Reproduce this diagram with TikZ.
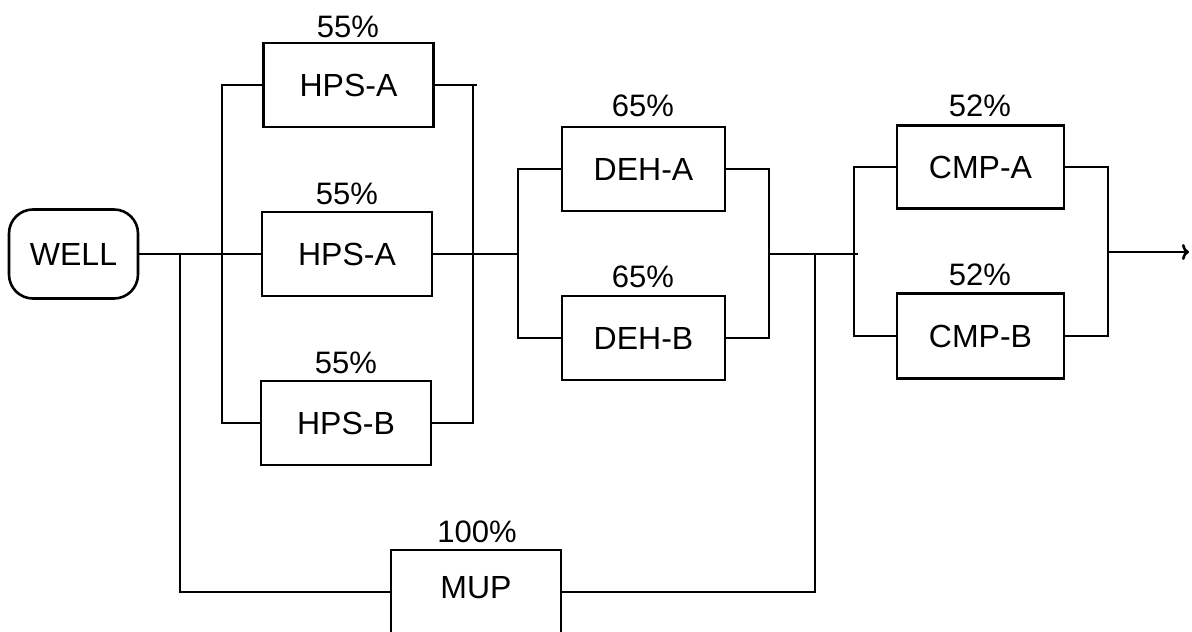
\documentclass[tikz,border=0pt]{standalone}
\usepackage{fontspec}
\setmainfont{Liberation Sans}
\usetikzlibrary{arrows.meta}
\begin{document}
\begin{tikzpicture}[x=1pt,y=-1pt,
  every node/.style={font=\fontsize{32}{38}\selectfont, inner sep=0pt},
  unit/.style={draw, line width=2.6pt, minimum width=170pt, minimum height=84pt},
  wellbox/.style={draw, line width=2.6pt, rounded corners=24pt, minimum width=129pt, minimum height=89pt},
  pct/.style={font=\fontsize{31}{36}\selectfont},
  wire/.style={line width=2.6pt, line cap=rect}]
\useasboundingbox (0,0) rectangle (1192,632);
% nodes
\node[wellbox] (well) at (73.5,254) {WELL};
\node[unit] (hpsa1) at (348.5,85) {HPS-A};
\node[unit] (hpsa2) at (347,254) {HPS-A};
\node[unit] (hpsb) at (346,423) {HPS-B};
\node[unit, minimum width=163pt] (deha) at (643.5,169) {DEH-A};
\node[unit, minimum width=163pt] (dehb) at (643.5,338) {DEH-B};
\node[unit, minimum width=167pt, minimum height=83pt] (cmpa) at (980.5,167) {CMP-A};
\node[unit, minimum width=167pt, minimum height=85pt] (cmpb) at (980.5,336) {CMP-B};
\node[unit, minimum height=84pt] (mup) at (476,592) {};
\node (muptext) at (476,588) {MUP};
% labels
\node[pct] (l1) at (348,27) {55\%};
\node[pct] (l2) at (347,194) {55\%};
\node[pct] (l3) at (346,363) {55\%};
\node[pct] (l4) at (643,106) {65\%};
\node[pct] (l5) at (643,277) {65\%};
\node[pct] (l6) at (980,106) {52\%};
\node[pct] (l7) at (980,275) {52\%};
\node[pct] (l8) at (477,532) {100\%};
% junction coordinates
\coordinate (jA) at (180,254);
\coordinate (jAb) at (180,592);
\coordinate (jL1t) at (222,85);
\coordinate (jL1b) at (222,423);
\coordinate (jR1t) at (473,85);
\coordinate (jR1b) at (473,423);
\coordinate (jR1e) at (476,85);
\coordinate (jL2t) at (518,169);
\coordinate (jL2m) at (518,254);
\coordinate (jL2b) at (518,338);
\coordinate (jR2t) at (769,169);
\coordinate (jR2m) at (769,254);
\coordinate (jR2b) at (769,338);
\coordinate (jB) at (815,254);
\coordinate (jBb) at (815,592);
\coordinate (jL3t) at (854,167);
\coordinate (jL3m) at (857,254);
\coordinate (jL3b) at (854,336);
\coordinate (jR3t) at (1108,167);
\coordinate (jR3m) at (1108,252);
\coordinate (jR3b) at (1108,336);
\coordinate (out) at (1189,252);
% wires
\draw[wire] (well.east) -- (hpsa2.west);
\draw[wire] (jL1t) -- (jL1b);
\draw[wire] (jL1t) -- (hpsa1.west);
\draw[wire] (jL1b) -- (hpsb.west);
\draw[wire] (hpsa1.east) -- (jR1e);
\draw[wire] (jR1t) -- (jR1b);
\draw[wire] (hpsb.east) -- (jR1b);
\draw[wire] (hpsa2.east) -- (jL2m);
\draw[wire] (jL2t) -- (jL2b);
\draw[wire] (jL2t) -- (deha.west);
\draw[wire] (jL2b) -- (dehb.west);
\draw[wire] (deha.east) -- (jR2t) -- (jR2b) -- (dehb.east);
\draw[wire] (jR2m) -- (jL3m);
\draw[wire] (jA) -- (jAb) -- (mup.west);
\draw[wire] (mup.east) -- (jBb) -- (jB);
\draw[wire] (jL3t) -- (jL3b);
\draw[wire] (jL3t) -- (cmpa.west);
\draw[wire] (jL3b) -- (cmpb.west);
\draw[wire] (cmpa.east) -- (jR3t) -- (jR3b) -- (cmpb.east);
\draw[wire, line cap=butt, -{To[length=7pt,width=16pt,line width=2.6pt]}] (jR3m) -- (out);
\end{tikzpicture}
\end{document}
